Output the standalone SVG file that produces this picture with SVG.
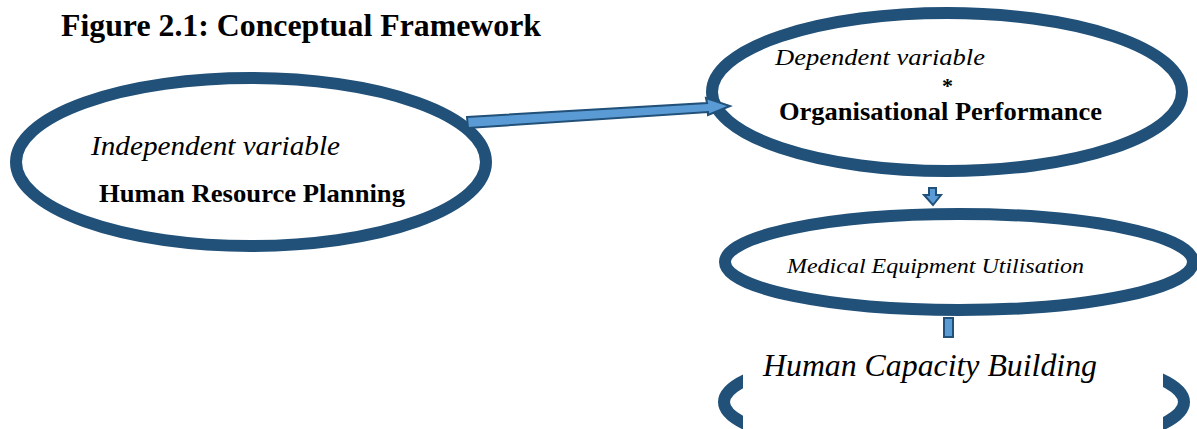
<svg xmlns="http://www.w3.org/2000/svg" width="1197" height="429" viewBox="0 0 1197 429">
<style>
.ell{fill:#fff;stroke:#215078;stroke-width:12}
.t{font-family:"Liberation Serif","Times New Roman",serif;fill:#000}
.i{font-style:italic}
.b{font-weight:bold}
.arr{fill:#5b9bd5;stroke:#215078;stroke-width:2;stroke-linejoin:miter}
</style>
<defs>
<clipPath id="hcbClip"><rect x="0" y="0" width="743" height="429"/><rect x="1163" y="0" width="40" height="429"/></clipPath>
</defs>
<rect width="1197" height="429" fill="#fff"/>
<text class="t b" x="61" y="36" font-size="32" textLength="480" lengthAdjust="spacingAndGlyphs">Figure 2.1: Conceptual Framework</text>
<g id="node-hrp">
<ellipse class="ell" cx="251" cy="162" rx="235" ry="84"/>
<text class="t i" x="91" y="155" font-size="28" textLength="249" lengthAdjust="spacingAndGlyphs">Independent variable</text>
<text class="t b" x="99" y="202" font-size="25" textLength="306" lengthAdjust="spacingAndGlyphs">Human Resource Planning</text>
</g>
<g id="node-op">
<ellipse class="ell" cx="947" cy="92" rx="235" ry="79"/>
<text class="t i" x="775" y="65" font-size="24" textLength="210" lengthAdjust="spacingAndGlyphs">Dependent variable</text>
<text class="t b" x="942" y="93" font-size="22">*</text>
<text class="t b" x="779" y="120" font-size="25" textLength="323" lengthAdjust="spacingAndGlyphs">Organisational Performance</text>
</g>
<g id="node-meu">
<ellipse class="ell" cx="959" cy="262" rx="234" ry="48"/>
<text class="t i" x="787" y="273" font-size="22" textLength="297" lengthAdjust="spacingAndGlyphs">Medical Equipment Utilisation</text>
</g>
<g id="node-hcb">
<ellipse class="ell" cx="954" cy="402" rx="230" ry="52" clip-path="url(#hcbClip)"/>
<text class="t i" x="763" y="376" font-size="31" textLength="334" lengthAdjust="spacingAndGlyphs">Human Capacity Building</text>
</g>
<g id="connectors">
<path class="arr" d="M467,117 L707,103 L706,98 L730,106 L708,115 L708,112 L468,128 Z"/>
<path class="arr" d="M929,188 L936,188 L936,195 L941,195 L933,205 L924,195 L929,195 Z"/>
<rect class="arr" x="944" y="318" width="9" height="19"/>
</g>
</svg>
